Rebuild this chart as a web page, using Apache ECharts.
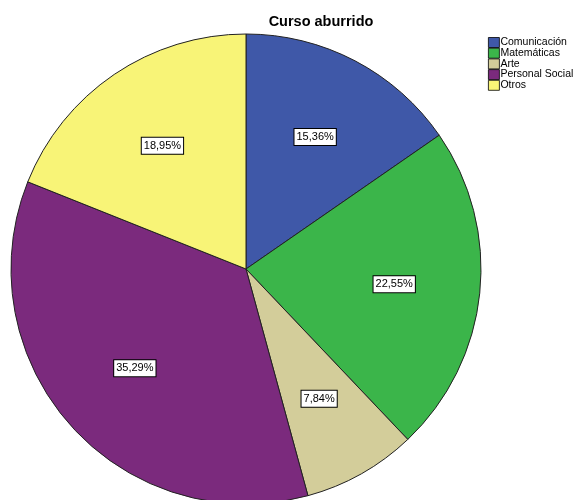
<!DOCTYPE html>
<html>
<head>
<meta charset="utf-8">
<script src="https://cdn.jsdelivr.net/npm/echarts@6/dist/echarts.min.js"></script>
<style>html,body{margin:0;padding:0;background:#fff;}#c{width:577px;height:500px;}</style>
</head>
<body>
<div id="c"></div>
<script>
const titleText = "Curso aburrido";
const categories = ["Comunicación", "Matemáticas", "Arte", "Personal Social", "Otros"];
const values = [15.36, 22.55, 7.84, 35.29, 18.95];
const colors = ["#3f58a8", "#3bb54a", "#d3cd9a", "#7b2a7d", "#f8f477"];

const data = categories.map((c, i) => ({ name: c, value: values[i], itemStyle: { color: colors[i] } }));
const chart = echarts.init(document.getElementById('c'), null, { renderer: 'canvas' });
chart.setOption({
  animation: false,
  backgroundColor: '#fff',
  title: {
    text: titleText, left: 316, top: 9, textAlign: 'center',
    textStyle: { fontFamily: 'Arial, Liberation Sans', fontSize: 14.5, fontWeight: 'bold', color: '#000' }
  },
  legend: {
    orient: 'vertical', left: 483, top: 32, itemWidth: 11, itemHeight: 10, itemGap: -0.3,
    icon: 'rect',
    data: categories,
    itemStyle: { borderColor: '#000', borderWidth: 0.8 },
    textStyle: { fontFamily: 'Arial, Liberation Sans', fontSize: 10.5, lineHeight: 10, color: '#000', padding: [0, 0, 0, -4] }
  },
  series: [
    {
      type: 'pie', center: [246, 269], radius: [0, 235], startAngle: 90, clockwise: true,
      data: data, label: { show: false }, labelLine: { show: false }, silent: true,
      itemStyle: { borderColor: '#222', borderWidth: 1 }
    },
    {
      type: 'pie', center: [246, 269], radius: [0, 292], startAngle: 90, clockwise: true,
      data: categories.map((c, i) => ({ name: c, value: values[i] })),
      itemStyle: { color: 'rgba(0,0,0,0)' }, silent: true, legendHoverLink: false,
      label: {
        show: true, position: 'inside',
        formatter: p => values[p.dataIndex].toFixed(2).replace('.', ',') + '%',
        fontFamily: 'Arial, Liberation Sans', fontSize: 11, color: '#000',
        backgroundColor: '#fff', borderColor: '#000', borderWidth: 1, padding: [3, 2, 2, 2]
      },
      labelLine: { show: false }
    }
  ]
});
</script>
</body>
</html>
